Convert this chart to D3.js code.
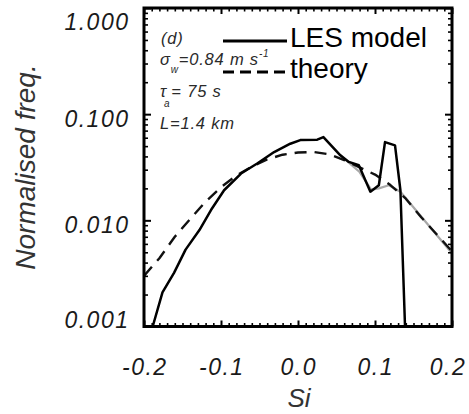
<!DOCTYPE html>
<html><head><meta charset="utf-8">
<script src="https://cdn.jsdelivr.net/npm/d3@7"></script>
<style>
body{margin:0;background:#fff}
svg{display:block}
</style></head><body>
<svg id="chart" width="469" height="414"></svg>
<script>
// LES model histogram (solid black)
const siLES = [-0.1887,-0.176,-0.161,-0.146,-0.128,-0.113,-0.096,-0.074,-0.053,-0.031,-0.010,0.003,0.025,0.033,0.055,0.066,0.079,0.094,0.105,0.113,0.126,0.133,0.139];
const freqLES = [0.001,0.0021,0.0032,0.0053,0.0081,0.0125,0.0192,0.0276,0.0343,0.044,0.0527,0.057,0.0575,0.0608,0.041,0.0355,0.033,0.0186,0.0214,0.0546,0.0508,0.0192,0.001];
// smoothed LES tail (grey)
const siSmooth = [0.055,0.066,0.08,0.095,0.105,0.118,0.133,0.2];
const freqSmooth = [0.041,0.0350,0.0285,0.0195,0.0200,0.0214,0.0186,0.0049];
// theoretical distribution (dashed)
const siTheory = [-0.2,-0.18,-0.16,-0.14,-0.12,-0.10,-0.08,-0.06,-0.04,-0.02,0.00,0.02,0.04,0.06,0.08,0.10,0.12,0.14,0.16,0.18,0.20];
const freqTheory = [0.0030,0.0044,0.0070,0.0103,0.0150,0.0205,0.0265,0.0320,0.0375,0.0415,0.0435,0.0440,0.0420,0.0370,0.0315,0.0270,0.0215,0.0160,0.0107,0.0074,0.0051];

const xTickValues = [-0.2,-0.1,0.0,0.1,0.2];
const xTickLabels = ["-0.2","-0.1","0.0","0.1","0.2"];
const yTickValues = [1,0.1,0.01,0.001];
const yTickLabels = ["1.000","0.100","0.010","0.001"];
const legendLabels = ["LES model","theory"];

const svg = d3.select("#chart");
const pLeft = 144, pRight = 452, pTop = 8, pBottom = 326.5;
const x = d3.scaleLinear().domain([-0.2,0.2]).range([pLeft,pRight]);
const y = d3.scaleLog().domain([0.001,1]).range([pBottom,pTop]);

const xMinor = d3.range(-20,21).filter(i => i % 10 !== 0).map(i => i/100);
const yMinor = [];
[0.001,0.01,0.1].forEach(d => { for (let k = 2; k <= 9; k++) yMinor.push(k*d); });

// clip for the curves
svg.append("defs").append("clipPath").attr("id","plotClip")
  .append("rect").attr("x",pLeft).attr("y",pTop).attr("width",pRight-pLeft).attr("height",pBottom-pTop);

const lineOf = (xs, ys) => d3.line().x((d,i) => x(xs[i])).y((d,i) => y(ys[i]))(xs);

const curves = svg.append("g").attr("clip-path","url(#plotClip)").attr("fill","none")
  .attr("stroke-linejoin","round");
curves.append("path").attr("d", lineOf(siSmooth, freqSmooth))
  .attr("stroke","#a8a8a8").attr("stroke-width",2.2);
curves.append("path").attr("d", lineOf(siTheory, freqTheory))
  .attr("stroke","#111").attr("stroke-width",2.4).attr("stroke-dasharray","12,8");
curves.append("path").attr("d", lineOf(siLES, freqLES))
  .attr("stroke","#000").attr("stroke-width",2.5);

// axes: inward ticks on all four sides
function addAxis(axis, tx, ty, width) {
  const g = svg.append("g").attr("transform",`translate(${tx},${ty})`).call(axis);
  g.select(".domain").remove();
  g.selectAll(".tick line").attr("stroke","#000").attr("stroke-width",width);
  g.selectAll(".tick text").remove();
  return g;
}
addAxis(d3.axisBottom(x).tickValues(xTickValues).tickSize(-6).tickFormat(""), 0, pBottom, 2);
addAxis(d3.axisBottom(x).tickValues(xMinor).tickSize(-3.5).tickFormat(""), 0, pBottom, 1.6);
addAxis(d3.axisTop(x).tickValues(xTickValues).tickSize(-6).tickFormat(""), 0, pTop, 2);
addAxis(d3.axisTop(x).tickValues(xMinor).tickSize(-3.5).tickFormat(""), 0, pTop, 1.6);
addAxis(d3.axisLeft(y).tickValues(yTickValues).tickSize(-7).tickFormat(""), pLeft, 0, 2);
addAxis(d3.axisLeft(y).tickValues(yMinor).tickSize(-4).tickFormat(""), pLeft, 0, 1.6);
addAxis(d3.axisRight(y).tickValues(yTickValues).tickSize(-7).tickFormat(""), pRight, 0, 2);
addAxis(d3.axisRight(y).tickValues(yMinor).tickSize(-4).tickFormat(""), pRight, 0, 1.6);

svg.append("rect").attr("x",pLeft).attr("y",pTop).attr("width",pRight-pLeft).attr("height",pBottom-pTop)
  .attr("fill","none").attr("stroke","#000").attr("stroke-width",3);

// tick labels
const tickFont = "'Liberation Sans', Arial, sans-serif";
svg.append("g").selectAll("text").data(xTickValues).join("text")
  .attr("x", d => Math.min(x(d) + 0.8, 448))
  .attr("y", 375)
  .attr("text-anchor","middle")
  .attr("font-family", tickFont).attr("font-style","italic").attr("font-size",23)
  .attr("letter-spacing",1.5).attr("fill","#1a1a1a")
  .text((d,i) => xTickLabels[i]);

svg.append("g").selectAll("text").data(yTickValues).join("text")
  .attr("x", 129.5)
  .attr("y", d => Math.max(22, Math.min(319.5, y(d) + 5)) + 8)
  .attr("text-anchor","end")
  .attr("font-family", tickFont).attr("font-style","italic").attr("font-size",23)
  .attr("letter-spacing",1.5).attr("fill","#1a1a1a")
  .text((d,i) => yTickLabels[i]);

// axis titles
svg.append("text").attr("transform","translate(35,167) rotate(-90)")
  .attr("text-anchor","middle")
  .attr("font-family", tickFont).attr("font-style","italic").attr("font-size",28)
  .attr("fill","#333").text("Normalised freq.");
svg.append("text").attr("x",299).attr("y",407).attr("text-anchor","middle")
  .attr("font-family", tickFont).attr("font-style","italic").attr("font-size",26)
  .attr("fill","#333").text("Si");

// legend
const legend = svg.append("g");
legend.append("line").attr("x1",223).attr("x2",287).attr("y1",41).attr("y2",41)
  .attr("stroke","#000").attr("stroke-width",3.2);
legend.append("line").attr("x1",223).attr("x2",287).attr("y1",72).attr("y2",72)
  .attr("stroke","#000").attr("stroke-width",3.2).attr("stroke-dasharray","11,6");
legend.selectAll("text.lab").data(legendLabels).join("text").attr("class","lab")
  .attr("x",290).attr("y",(d,i) => 47 + i*31)
  .attr("font-family", tickFont).attr("font-size",28).attr("fill","#000")
  .text(d => d);

// run parameters
const ann = svg.append("g").attr("font-family", tickFont).attr("font-style","italic")
  .attr("font-size",16.5).attr("letter-spacing",0.8).attr("fill","#2a2a2a");
ann.append("text").attr("x",161).attr("y",44).text("(d)");
const s1 = ann.append("text").attr("x",160).attr("y",65);
s1.append("tspan").text("σ");
s1.append("tspan").attr("dy",8).attr("font-size",10).text("w");
s1.append("tspan").attr("dy",-8).text("=0.84 m s");
s1.append("tspan").attr("dy",-8).attr("font-size",10).text("-1");
const s2 = ann.append("text").attr("x",160).attr("y",97);
s2.append("tspan").text("τ");
s2.append("tspan").attr("dy",10).attr("dx",-3).attr("font-size",10).text("a");
s2.append("tspan").attr("dy",-10).attr("dx",1).text("= 75 s");
ann.append("text").attr("x",160).attr("y",129).text("L=1.4 km");
</script>
</body></html>
